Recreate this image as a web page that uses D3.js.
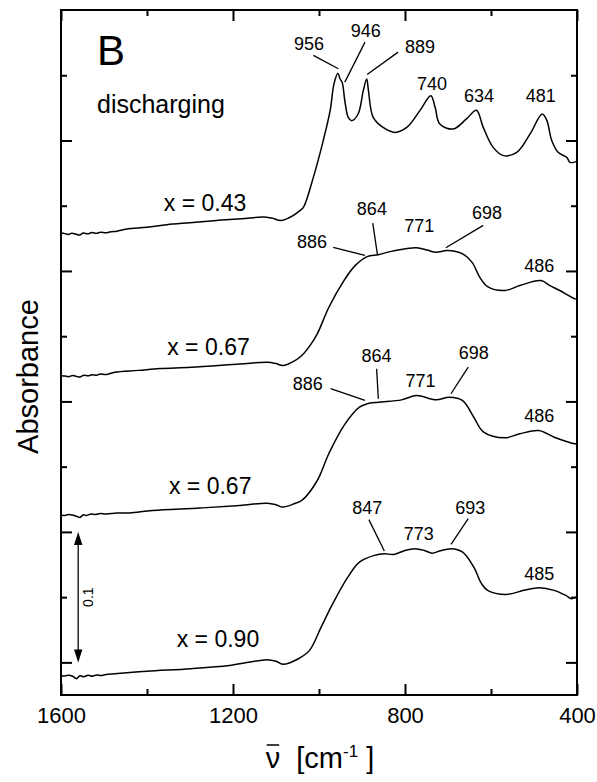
<!DOCTYPE html>
<html>
<head>
<meta charset="utf-8">
<script src="https://cdn.jsdelivr.net/npm/d3@7"></script>
<style>
	body { margin: 0; background: #fff; }
	svg { display: block; font-family: "Liberation Sans", Arial, Helvetica, sans-serif; }
</style>
</head>
<body>
<script>
	// canvas and plot frame
	var w = 597, h = 782;
	var fx0 = 61, fx1 = 577, fy0 = 10, fy1 = 695;

	// axis ticks
	var xMajor = [1600, 1200, 800, 400];
	var xMinor = [1400, 1000, 600];
	var yMajor = [0, 0.1, 0.2, 0.3, 0.4];
	var yMinor = [0.05, 0.15, 0.25, 0.35, 0.45];

	// spectra: [wavenumber (cm-1), absorbance incl. stacking offset]
	var spec043 = [
		[1600,0.3290],[1591,0.3286],[1583,0.3280],[1575,0.3289],[1566,0.3283],[1557,0.3276],[1548,0.3290],
		[1538,0.3285],[1528,0.3294],[1518,0.3288],[1508,0.3297],[1496,0.3292],[1484,0.3300],[1470,0.3305],
		[1447,0.3322],[1400,0.3335],[1354,0.3355],[1300,0.3370],[1238,0.3387],[1180,0.3400],[1130,0.3413],
		[1110,0.3405],[1087,0.3387],[1060,0.3425],[1044,0.3464],[1036,0.3489],[1013,0.3719],[990,0.4001],
		[974,0.4231],[965,0.4436],[956,0.4515],[951,0.4471],[946,0.4445],[940,0.4305],[932,0.4177],
		[924,0.4152],[909,0.4203],[897,0.4382],[889,0.4471],[885,0.4382],[874,0.4177],[851,0.4100],
		[823,0.4062],[796,0.4100],[765,0.4231],[740,0.4343],[730,0.4254],[719,0.4126],[688,0.4088],
		[657,0.4165],[634,0.4231],[618,0.4100],[595,0.3947],[571,0.3884],[540,0.3909],[509,0.4050],
		[481,0.4203],[470,0.4152],[459,0.4001],[444,0.3909],[424,0.3871],[416,0.3832],[400,0.3840]
	];
	var spec067a = [
		[1600,0.2199],[1591,0.2194],[1582,0.2190],[1573,0.2198],[1564,0.2192],[1556,0.2187],[1547,0.2200],
		[1537,0.2196],[1527,0.2205],[1517,0.2201],[1509,0.2210],[1495,0.2206],[1475,0.2224],[1420,0.2238],
		[1370,0.2252],[1298,0.2262],[1184,0.2287],[1120,0.2300],[1100,0.2290],[1084,0.2275],[1056,0.2313],
		[1040,0.2352],[1021,0.2428],[1004,0.2518],[977,0.2722],[942,0.2926],[916,0.3041],[888,0.3110],
		[862,0.3125],[829,0.3152],[773,0.3177],[749,0.3160],[728,0.3143],[702,0.3156],[666,0.3131],
		[644,0.3066],[626,0.2951],[608,0.2880],[568,0.2850],[533,0.2888],[484,0.2926],[463,0.2888],
		[440,0.2850],[404,0.2786],[400,0.2788]
	];
	var spec067b = [
		[1600,0.1130],[1591,0.1126],[1582,0.1133],[1572,0.1128],[1564,0.1120],[1556,0.1111],[1548,0.1131],
		[1540,0.1126],[1530,0.1138],[1520,0.1133],[1509,0.1141],[1495,0.1137],[1470,0.1144],[1440,0.1145],
		[1387,0.1164],[1277,0.1183],[1184,0.1203],[1120,0.1220],[1100,0.1208],[1084,0.1190],[1056,0.1218],
		[1040,0.1241],[1004,0.1394],[977,0.1601],[942,0.1815],[906,0.1956],[888,0.1982],[862,0.1994],
		[808,0.2012],[773,0.2045],[728,0.2012],[697,0.2032],[666,0.2007],[640,0.1879],[617,0.1764],
		[568,0.1721],[533,0.1752],[489,0.1777],[453,0.1726],[404,0.1675],[400,0.1675]
	];
	var spec090 = [
		[1600,-0.0100],[1591,-0.0104],[1582,-0.0098],[1573,-0.0106],[1564,-0.0125],[1556,-0.0103],
		[1547,-0.0110],[1537,-0.0099],[1527,-0.0106],[1517,-0.0096],[1507,-0.0101],[1495,-0.0092],
		[1475,-0.0087],[1400,-0.0068],[1298,-0.0048],[1208,-0.0023],[1120,0.0021],[1100,0.0008],
		[1084,-0.0015],[1048,0.0028],[1022,0.0092],[995,0.0270],[968,0.0450],[933,0.0653],[906,0.0768],
		[871,0.0820],[848,0.0833],[826,0.0827],[800,0.0858],[777,0.0871],[755,0.0858],[737,0.0837],
		[720,0.0853],[693,0.0871],[666,0.0845],[640,0.0730],[622,0.0603],[608,0.0552],[564,0.0521],
		[524,0.0552],[488,0.0572],[453,0.0552],[426,0.0513],[413,0.0488],[404,0.0500],[400,0.0495]
	];
	var spectra = [spec043, spec067a, spec067b, spec090];

	// series labels and where they sit (wavenumber, absorbance of baseline)
	var seriesNames = ["x = 0.43", "x = 0.67", "x = 0.67", "x = 0.90"];
	var seriesLabelAt = [[1265, 0.3459], [1257, 0.2353], [1253, 0.1293], [1235, 0.0117]];

	// band assignments: text, label wn, label absorbance, leader line or null
	var peaks = [
		["956", 1023, 0.4690, [1013, 0.4652, 955, 0.4550]],
		["946", 891, 0.4790, [893, 0.4754, 940, 0.4447]],
		["889", 765, 0.4667, [816, 0.4677, 888, 0.4506]],
		["740", 737, 0.4384, null],
		["634", 628, 0.4292, null],
		["481", 484, 0.4292, null],
		["886", 1016, 0.3173, [967, 0.3181, 893, 0.3119]],
		["864", 877, 0.3426, [875, 0.3367, 864, 0.3123]],
		["771", 767, 0.3296, null],
		["698", 609, 0.3396, [618, 0.3349, 705, 0.3178]],
		["486", 488, 0.2991, null],
		["886", 1026, 0.2084, [973, 0.2098, 893, 0.2008]],
		["864", 866, 0.2301, [866, 0.2251, 862, 0.2021]],
		["771", 764, 0.2110, null],
		["698", 640, 0.2327, [653, 0.2263, 693, 0.2059]],
		["486", 488, 0.1842, null],
		["847", 888, 0.1140, [884, 0.1094, 848, 0.0853]],
		["773", 768, 0.0935, null],
		["693", 648, 0.1140, [653, 0.1101, 693, 0.0904]],
		["485", 488, 0.0628, null]
	];

	// scale bar: 0.1 absorbance units
	var barFrom = 0, barTo = 0.1, barWn = 1560;

	var svg = d3.select("body").append("svg")
		.attr("width", w)
		.attr("height", h);

	var x = d3.scaleLinear().domain([1600, 400]).range([fx0, fx1]);
	var y = d3.scaleLinear().domain([-0.025, 0.5]).range([fy1, fy0]);

	// ticks, all pointing inwards
	function tickAxis(axis, tr, labels) {
		var g = svg.append("g").attr("transform", tr).call(axis);
		g.select(".domain").remove();
		g.selectAll("line").attr("stroke", "#000").attr("stroke-width", 2);
		if (!labels) g.selectAll("text").remove();
		return g;
	}
	var gb = tickAxis(d3.axisBottom(x).tickValues(xMajor).tickFormat(d3.format("d")).tickSize(-11).tickPadding(12),
		"translate(0," + fy1 + ")", true);
	gb.attr("font-family", null).attr("font-size", null);
	gb.selectAll("text").attr("font-size", 22).attr("fill", "#000");
	tickAxis(d3.axisBottom(x).tickValues(xMinor).tickSize(-6), "translate(0," + fy1 + ")");
	tickAxis(d3.axisTop(x).tickValues(xMajor).tickSize(-11), "translate(0," + fy0 + ")");
	tickAxis(d3.axisTop(x).tickValues(xMinor).tickSize(-6), "translate(0," + fy0 + ")");
	tickAxis(d3.axisLeft(y).tickValues(yMajor).tickSize(-11), "translate(" + fx0 + ",0)");
	tickAxis(d3.axisLeft(y).tickValues(yMinor).tickSize(-6), "translate(" + fx0 + ",0)");
	tickAxis(d3.axisRight(y).tickValues(yMajor).tickSize(-11), "translate(" + fx1 + ",0)");
	tickAxis(d3.axisRight(y).tickValues(yMinor).tickSize(-6), "translate(" + fx1 + ",0)");

	// frame
	svg.append("rect")
		.attr("x", fx0).attr("y", fy0)
		.attr("width", fx1 - fx0).attr("height", fy1 - fy0)
		.attr("fill", "none").attr("stroke", "#000").attr("stroke-width", 2);

	// spectra
	var line = d3.line()
		.x(function(d) { return x(d[0]); })
		.y(function(d) { return y(d[1]); })
		.curve(d3.curveCatmullRom.alpha(0.5));
	svg.selectAll("path.spec").data(spectra).enter().append("path")
		.attr("class", "spec")
		.attr("d", line)
		.attr("fill", "none")
		.attr("stroke", "#000")
		.attr("stroke-width", 1.5);

	// series labels
	seriesNames.forEach(function(t, i) {
		svg.append("text")
			.attr("x", x(seriesLabelAt[i][0])).attr("y", y(seriesLabelAt[i][1]))
			.attr("text-anchor", "middle").attr("font-size", 23)
			.text(t);
	});

	// band labels and leader lines
	peaks.forEach(function(p) {
		svg.append("text")
			.attr("x", x(p[1])).attr("y", y(p[2]))
			.attr("text-anchor", "middle").attr("font-size", 18)
			.text(p[0]);
		if (p[3]) {
			svg.append("line")
				.attr("x1", x(p[3][0])).attr("y1", y(p[3][1]))
				.attr("x2", x(p[3][2])).attr("y2", y(p[3][3]))
				.attr("stroke", "#000").attr("stroke-width", 1.3);
		}
	});

	// scale bar with arrow heads
	var bx = x(barWn), by0 = y(barFrom), by1 = y(barTo);
	svg.append("line")
		.attr("x1", bx).attr("x2", bx).attr("y1", by0 - 6).attr("y2", by1 + 6)
		.attr("stroke", "#000").attr("stroke-width", 1.3);
	svg.append("path")
		.attr("d", "M" + bx + "," + by1 + "l-4.2,13h8.4z M" + bx + "," + by0 + "l-4.2,-13h8.4z")
		.attr("fill", "#000");
	svg.append("text")
		.attr("transform", "translate(" + (bx + 15) + "," + ((by0 + by1) / 2) + ") rotate(-90)")
		.attr("text-anchor", "middle").attr("font-size", 14)
		.text("0.1");

	// panel letter and condition
	svg.append("text").attr("x", 97).attr("y", 65).attr("font-size", 42).text("B");
	svg.append("text").attr("x", 97).attr("y", 113).attr("font-size", 25).text("discharging");

	// axis titles
	svg.append("text")
		.attr("transform", "translate(38," + ((fy0 + fy1) / 2 + 24) + ") rotate(-90)")
		.attr("text-anchor", "middle").attr("font-size", 29)
		.text("Absorbance");

	var xt = svg.append("text")
		.attr("x", (fx0 + fx1) / 2 + 1).attr("y", 768)
		.attr("text-anchor", "middle").attr("font-size", 29);
	xt.append("tspan").attr("class", "nu").text("\u03bd");
	xt.append("tspan").text("\u00a0\u00a0[cm");
	xt.append("tspan").attr("font-size", 17).attr("dy", -11).text("-1");
	xt.append("tspan").attr("dy", 11).text("\u00a0]");
	var nb = xt.select(".nu").node().getBBox();
	svg.append("line")
		.attr("x1", nb.x + 1).attr("x2", nb.x + nb.width - 1)
		.attr("y1", nb.y + 3).attr("y2", nb.y + 3)
		.attr("stroke", "#000").attr("stroke-width", 1.5);
</script>
</body>
</html>
